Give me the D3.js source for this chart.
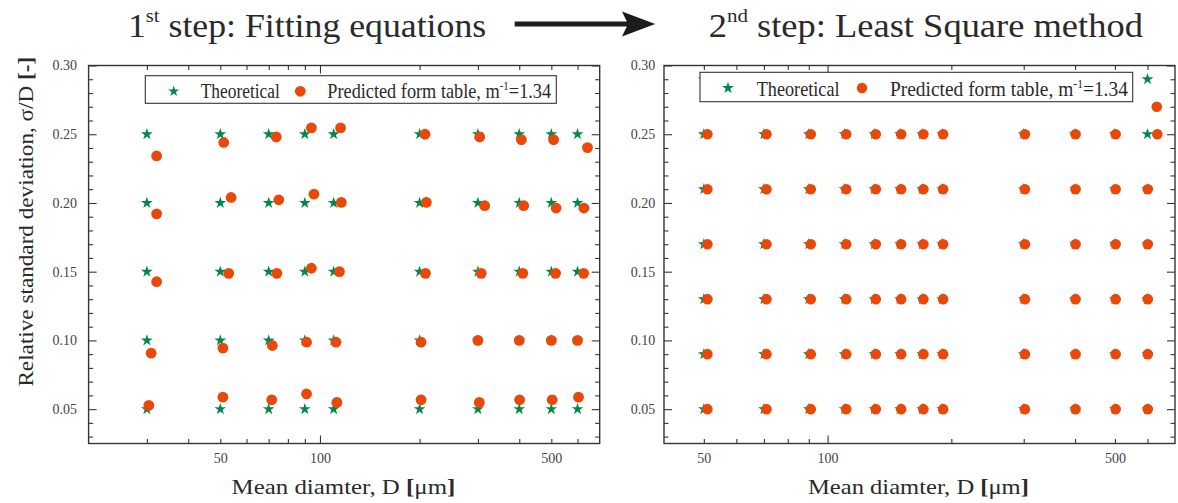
<!DOCTYPE html>
<html><head><meta charset="utf-8">
<script src="https://cdn.jsdelivr.net/npm/d3@7"></script>
<style>
html,body{margin:0;padding:0;background:#fff;}
svg{display:block;}
text{font-family:"Liberation Serif",serif;}
</style></head><body>
<svg id="chart" width="1178" height="503"></svg>
<script>
// ---------------- data ----------------
const yMajorTicks = [0.05, 0.10, 0.15, 0.20, 0.25, 0.30];
const yMinorTicks = [0.03,0.04,0.06,0.07,0.08,0.09,0.11,0.12,0.13,0.14,0.16,0.17,0.18,0.19,0.21,0.22,0.23,0.24,0.26,0.27,0.28,0.29];
const xLabelTicks = [50, 100, 500];
const xMajorTicks = [100];
const leftXMinorTicks = [30, 40, 50, 60, 70, 80, 90, 200, 300, 400, 500, 600];
const rightXMinorTicks = [50, 60, 70, 80, 90, 200, 300, 400, 500, 600];

// 1st step – theoretical grid
const leftTheoD = [30, 50, 70, 90, 110, 200, 300, 400, 500, 600];
const leftTheoS = [0.05, 0.10, 0.15, 0.20, 0.25];

// 1st step – predicted from table (one array per theoretical row)
const leftPredD005 = [30.4, 50.9, 71.5, 91.1, 112.5, 202, 303, 401, 503, 604];
const leftPredS005 = [0.0527, 0.0587, 0.0568, 0.0610, 0.0549, 0.0568, 0.0549, 0.0568, 0.0568, 0.0587];
const leftPredD010 = [30.9, 50.9, 71.8, 91.1, 111.8, 202, 300, 400, 500, 600];
const leftPredS010 = [0.0907, 0.0944, 0.0963, 0.0987, 0.0987, 0.0987, 0.100, 0.100, 0.100, 0.100];
const leftPredD015 = [32.1, 53.0, 74.1, 94.2, 114.5, 208.3, 307, 410, 515, 626];
const leftPredS015 = [0.1427, 0.1488, 0.1488, 0.1525, 0.1500, 0.1488, 0.1488, 0.1488, 0.1488, 0.1488];
const leftPredD020 = [32.1, 53.9, 75.1, 95.9, 116, 209.6, 314.5, 412.5, 517, 627];
const leftPredS020 = [0.1921, 0.2040, 0.2023, 0.2064, 0.2004, 0.2004, 0.1980, 0.1980, 0.1963, 0.1963];
const leftPredD025 = [32.1, 51.2, 73.8, 94.2, 115.4, 207.7, 303.8, 406, 508, 643];
const leftPredS025 = [0.2342, 0.2440, 0.2480, 0.2546, 0.2546, 0.2500, 0.2480, 0.2460, 0.2460, 0.2403];

// 2nd step – theoretical grid
const rightTheoD = [50, 70, 90, 110, 130, 150, 170, 190, 300, 400, 500, 600];
const rightTheoS = [0.05, 0.09, 0.13, 0.17, 0.21, 0.25, 0.29];
// 2nd step – predicted (all columns but the last match their rows)
const rightPredD = [51, 71, 91, 111, 131, 151, 171, 191, 302, 401, 502];
const rightPredS = [0.05, 0.09, 0.13, 0.17, 0.21, 0.25, 0.29];
const rightPredLastD = [601, 601, 601, 601, 601, 634, 632];
const rightPredLastS = [0.05, 0.09, 0.13, 0.17, 0.21, 0.25, 0.27];

const yDomain = [0.025, 0.30];
const GREEN = "#00894a", ORANGE = "#e8480a", INK = "#353535";
const FONT = "Liberation Serif";

// ---------------- drawing ----------------
const svg = d3.select("#chart");
const starPath = d3.symbol().type(d3.symbolStar).size(43)();

function fitWidth(sel, x0, target) {
  const w = sel.node().getBBox().width;
  const s = target / w;
  sel.attr("transform", `translate(${x0},0) scale(${s},1) translate(${-x0},0)`);
}
function addText(parent) {
  return parent.append("text").attr("font-family", FONT).style("font-family", FONT);
}

function panel(cfg) {
  const g = svg.append("g");
  const x = d3.scaleLog().domain(cfg.xDomain).range([cfg.x0, cfg.x1]);
  const y = d3.scaleLinear().domain(yDomain).range([cfg.y1, cfg.y0]);

  const axes = [
    [d3.axisBottom(x).tickValues(xMajorTicks).tickSize(-8).tickFormat(""), `translate(0,${cfg.y1})`],
    [d3.axisBottom(x).tickValues(cfg.xMinor).tickSize(-4.5).tickFormat(""), `translate(0,${cfg.y1})`],
    [d3.axisTop(x).tickValues(xMajorTicks).tickSize(-8).tickFormat(""), `translate(0,${cfg.y0})`],
    [d3.axisTop(x).tickValues(cfg.xMinor).tickSize(-4.5).tickFormat(""), `translate(0,${cfg.y0})`],
    [d3.axisLeft(y).tickValues(yMajorTicks).tickSize(-8).tickFormat(""), `translate(${cfg.x0},0)`],
    [d3.axisLeft(y).tickValues(yMinorTicks).tickSize(-4.5).tickFormat(""), `translate(${cfg.x0},0)`],
    [d3.axisRight(y).tickValues(yMajorTicks).tickSize(-8).tickFormat(""), `translate(${cfg.x1},0)`],
    [d3.axisRight(y).tickValues(yMinorTicks).tickSize(-4.5).tickFormat(""), `translate(${cfg.x1},0)`]
  ];
  axes.forEach(([ax, tr]) => {
    const a = g.append("g").attr("transform", tr).call(ax);
    a.select(".domain").remove();
    a.selectAll("line").attr("stroke", INK).attr("stroke-width", 1.1);
  });
  // labels
  const xl = g.append("g").attr("transform", `translate(0,${cfg.y1})`)
    .call(d3.axisBottom(x).tickValues(xLabelTicks).tickSize(0).tickPadding(10).tickFormat(d3.format("d")));
  xl.select(".domain").remove();
  xl.attr("font-family", FONT).attr("font-size", 14);
  xl.selectAll("text").attr("fill", "#444");
  const yl = g.append("g").attr("transform", `translate(${cfg.x0},0)`)
    .call(d3.axisLeft(y).tickValues(yMajorTicks).tickSize(0).tickPadding(cfg.yPad).tickFormat(d3.format(".2f")));
  yl.select(".domain").remove();
  yl.attr("font-family", FONT).attr("font-size", 14);
  yl.selectAll("text").attr("fill", "#444");

  // frame
  g.append("rect").attr("x", cfg.x0).attr("y", cfg.y0)
    .attr("width", cfg.x1 - cfg.x0).attr("height", cfg.y1 - cfg.y0)
    .attr("fill", "none").attr("stroke", INK).attr("stroke-width", 1.4);

  // marks
  const stars = [];
  cfg.theoD.forEach(d => cfg.theoS.forEach(s => stars.push([d, s])));
  g.append("g").selectAll("path").data(stars).join("path")
    .attr("d", starPath).attr("fill", GREEN)
    .attr("transform", d => `translate(${x(d[0])},${y(d[1])})`);
  g.append("g").selectAll("circle").data(cfg.pred).join("circle")
    .attr("cx", d => x(d[0])).attr("cy", d => y(d[1])).attr("r", cfg.r).attr("fill", ORANGE);

  // legend
  const L = cfg.legend;
  g.append("rect").attr("x", L.x0).attr("y", L.y0).attr("width", L.x1 - L.x0).attr("height", L.y1 - L.y0)
    .attr("fill", "#fff").attr("stroke", INK).attr("stroke-width", 1.1);
  g.append("path").attr("d", d3.symbol().type(d3.symbolStar).size(L.starSize)())
    .attr("fill", GREEN).attr("transform", `translate(${L.starX},${L.symY})`);
  g.append("circle").attr("cx", L.circX).attr("cy", L.symY).attr("r", L.circR).attr("fill", ORANGE);
  const t1 = addText(g).attr("x", L.t1x).attr("y", L.base).attr("font-size", 20).attr("fill", "#2a2a2a").text("Theoretical");
  fitWidth(t1, L.t1x, L.t1w);
  const t2 = addText(g).attr("x", L.t2x).attr("y", L.base).attr("font-size", 20).attr("fill", "#2a2a2a");
  t2.append("tspan").text("Predicted form table,  m");
  t2.append("tspan").attr("font-size", 12).attr("dy", -8).text("-1");
  t2.append("tspan").attr("dy", 8).text("=1.34");
  fitWidth(t2, L.t2x, L.t2w);

  // x title
  const xt = addText(g).attr("x", cfg.xTitleX).attr("y", 494).attr("font-size", 22).attr("fill", "#2a2a2a");
  xt.append("tspan").text("Mean diamter, D ");
  xt.append("tspan").attr("font-weight", "bold").text("[");
  xt.append("tspan").text("μm");
  xt.append("tspan").attr("font-weight", "bold").text("]");
  fitWidth(xt, cfg.xTitleX, cfg.xTitleW);
  return {x, y};
}

const pl = [];
[[leftPredD005, leftPredS005], [leftPredD010, leftPredS010], [leftPredD015, leftPredS015],
 [leftPredD020, leftPredS020], [leftPredD025, leftPredS025]].forEach(([D, S]) => D.forEach((d, i) => pl.push([d, S[i]])));

const pr = [];
rightPredS.forEach((s, j) => {
  rightPredD.forEach(d => pr.push([d, s]));
  pr.push([rightPredLastD[j], rightPredLastS[j]]);
});

panel({
  xDomain: [20, 700], x0: 88.6, x1: 599.7, y0: 65.5, y1: 443.5, xMinor: leftXMinorTicks, yPad: 11.6,
  theoD: leftTheoD, theoS: leftTheoS, pred: pl, r: 5.4,
  legend: {x0: 145.3, x1: 556.3, y0: 75.7, y1: 103.3, starX: 173.7, circX: 300.3, symY: 91.3, starSize: 38, circR: 5.4,
           t1x: 200.7, t1w: 79.6, t2x: 327.3, t2w: 224, base: 98.5},
  xTitleX: 231.5, xTitleW: 224
});
panel({
  xDomain: [40, 700], x0: 664, x1: 1175, y0: 65.5, y1: 443.5, xMinor: rightXMinorTicks, yPad: 8.7,
  theoD: rightTheoD, theoS: rightTheoS, pred: pr, r: 5.3,
  legend: {x0: 700, x1: 1132.7, y0: 72.3, y1: 101.7, starX: 728, circX: 862, symY: 88, starSize: 44, circR: 5.2,
           t1x: 756.7, t1w: 83.3, t2x: 890, t2w: 238, base: 95.7},
  xTitleX: 808, xTitleW: 221
});

// y title
const yt = addText(svg).attr("text-anchor", "middle").attr("font-size", 20).attr("fill", "#2a2a2a");
yt.append("tspan").text("Relative standard deviation, σ/D ");
yt.append("tspan").attr("font-weight", "bold").text("[-]");
const ytw = yt.node().getBBox().width;
yt.attr("transform", `translate(33,221.7) rotate(-90) scale(${330 / ytw},1)`);

// titles
function title(x0, w, first, sup, rest) {
  const t = addText(svg).attr("x", x0).attr("y", 37).attr("font-size", 33).attr("fill", "#2a2a2a");
  t.append("tspan").text(first);
  t.append("tspan").attr("font-size", 19).attr("dy", -15).text(sup);
  t.append("tspan").attr("dy", 15).text(rest);
  fitWidth(t, x0, w);
}
title(128, 358.3, "1", "st", " step: Fitting equations");
title(708.7, 435, "2", "nd", "  step: Least Square method");

// arrow
svg.append("rect").attr("x", 514.7).attr("y", 21.5).attr("width", 116).attr("height", 5).attr("fill", "#1c1c1c");
svg.append("path").attr("d", "M622,11.5 L655.3,24 L622,36.5 L628,24 Z").attr("fill", "#1c1c1c");
</script>
</body></html>
